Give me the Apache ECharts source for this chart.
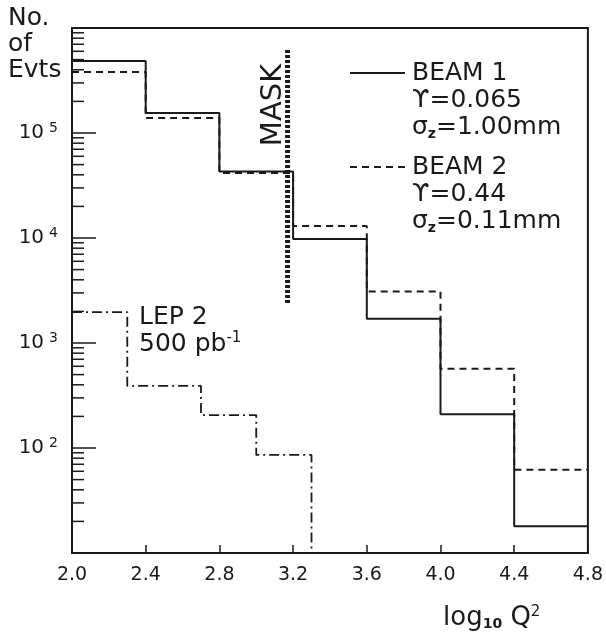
<!DOCTYPE html>
<html>
<head>
<meta charset="utf-8">
<script src="https://cdn.jsdelivr.net/npm/echarts@6/dist/echarts.min.js"></script>
<style>
html, body { margin: 0; padding: 0; background: #fff; }
#chart { width: 606px; height: 638px; }
</style>
</head>
<body>
<div id="chart"></div>
<script>
// histogram bins, x = log10 Q^2
var beamEdges = [2.0, 2.4, 2.8, 3.2, 3.6, 4.0, 4.4, 4.8];
var beam1Values = [485000, 155000, 43000, 9800, 1700, 210, 18];
var beam2Values = [380000, 139000, 41500, 13000, 3100, 570, 62];
var lepEdges = [2.0, 2.3, 2.7, 3.0, 3.3];
var lepValues = [1970, 390, 206, 86];
// mask marker
var maskX = [3.17, 3.17];
var maskY = [2400, 630000];
// axes
var xMin = 2.0, xMax = 4.8, xStep = 0.4;
var yMin = 10, yMax = 1000000;
var yLabelExponents = [2, 3, 4, 5];
var minorMultipliers = [2, 3, 4, 5, 6, 7, 8, 9];
var minorDecades = [10, 100, 1000, 10000, 100000];

var ink = '#1a1a1a';
var font = 'DejaVu Sans';

// turn bin edges + contents into step points
function stepPoints(edges, values, dropTo) {
    var pts = [];
    for (var i = 0; i < values.length; i++) {
        pts.push([edges[i], values[i]]);
    }
    pts.push([edges[edges.length - 1], values[values.length - 1]]);
    if (dropTo != null) pts.push([edges[edges.length - 1], dropTo]);
    return pts;
}

var minorTicks = [];
minorDecades.forEach(function (d) {
    minorMultipliers.forEach(function (m) { minorTicks.push([xMin, m * d]); });
});

var chart = echarts.init(document.getElementById('chart'));
chart.setOption({
    animation: false,
    backgroundColor: '#fff',
    grid: {
        left: 72, right: 16, top: 28, bottom: 85,
        show: true, borderColor: ink, borderWidth: 2
    },
    xAxis: {
        type: 'value',
        min: xMin, max: xMax, interval: xStep,
        axisLine: { lineStyle: { color: ink, width: 2 } },
        axisTick: { inside: true, length: 8, lineStyle: { color: ink, width: 1.5 } },
        splitLine: { show: false },
        axisLabel: {
            color: ink, fontFamily: font, fontSize: 19, margin: 13,
            formatter: function (v) { return v.toFixed(1); }
        }
    },
    yAxis: {
        type: 'log',
        logBase: 10,
        min: yMin, max: yMax,
        axisLine: { lineStyle: { color: ink, width: 2 } },
        axisTick: { inside: true, length: 24, lineStyle: { color: ink, width: 1.5 } },
        splitLine: { show: false },
        axisLabel: {
            margin: 14,
            formatter: function (v) {
                var e = Math.round(Math.log10(v));
                if (yLabelExponents.indexOf(e) < 0) return '';
                return '{b|10}{s|' + e + '}';
            },
            rich: {
                b: { fontFamily: font, fontSize: 20, color: ink },
                s: { fontFamily: font, fontSize: 14, color: ink, verticalAlign: 'top', padding: [0, 0, 10, 5] }
            }
        }
    },
    series: [
        {
            name: 'minor ticks',
            type: 'custom',
            data: minorTicks,
            silent: true,
            renderItem: function (params, api) {
                var p = api.coord([api.value(0), api.value(1)]);
                return {
                    type: 'line',
                    shape: { x1: p[0], y1: p[1], x2: p[0] + 12, y2: p[1] },
                    style: { stroke: ink, lineWidth: 1.5 }
                };
            }
        },
        {
            name: 'BEAM 1',
            type: 'line',
            step: 'end',
            symbol: 'none',
            data: stepPoints(beamEdges, beam1Values),
            lineStyle: { color: ink, width: 2 }
        },
        {
            name: 'BEAM 2',
            type: 'line',
            step: 'end',
            symbol: 'none',
            data: stepPoints(beamEdges, beam2Values),
            lineStyle: { color: ink, width: 2, type: [7, 5] }
        },
        {
            name: 'LEP 2',
            type: 'line',
            step: 'end',
            symbol: 'none',
            data: stepPoints(lepEdges, lepValues, yMin),
            lineStyle: { color: ink, width: 1.8, type: [10, 4, 2, 4] }
        },
        {
            name: 'MASK',
            type: 'line',
            symbol: 'none',
            data: [[maskX[0], maskY[0]], [maskX[1], maskY[1]]],
            lineStyle: { color: ink, width: 5, type: [3, 2] }
        }
    ],
    graphic: [
        { type: 'text', left: 8, top: 5,
          style: { text: 'No.\nof\nEvts', fontFamily: font, fontSize: 25, lineHeight: 26, fill: ink } },
        { type: 'text', x: 273, y: 105, rotation: Math.PI / 2,
          style: { text: 'MASK', fontFamily: font, fontSize: 29, fill: ink, align: 'center', verticalAlign: 'middle' } },
        // legend
        { type: 'line', shape: { x1: 350, y1: 73, x2: 405, y2: 73 }, style: { stroke: ink, lineWidth: 2 } },
        { type: 'text', x: 412, y: 60,
          style: { text: 'BEAM 1\nϒ=0.065\n{g|σ}{z|z}=1.00mm', fontFamily: font, fontSize: 25, lineHeight: 27, fill: ink,
                   rich: { g: { fontFamily: font, fontSize: 25, fill: ink }, z: { fontFamily: font, fontSize: 14, fontWeight: 'bold', verticalAlign: 'bottom', fill: ink } } } },
        { type: 'line', shape: { x1: 350, y1: 167, x2: 405, y2: 167 }, style: { stroke: ink, lineWidth: 2, lineDash: [7, 5] } },
        { type: 'text', x: 412, y: 154,
          style: { text: 'BEAM 2\nϒ=0.44\n{g|σ}{z|z}=0.11mm', fontFamily: font, fontSize: 25, lineHeight: 27, fill: ink,
                   rich: { g: { fontFamily: font, fontSize: 25, fill: ink }, z: { fontFamily: font, fontSize: 14, fontWeight: 'bold', verticalAlign: 'bottom', fill: ink } } } },
        { type: 'text', x: 139, y: 304,
          style: { text: 'LEP 2\n500 pb{s|-1}', fontFamily: font, fontSize: 25, lineHeight: 27, fill: ink,
                   rich: { s: { fontFamily: font, fontSize: 15, verticalAlign: 'top', padding: [0, 0, 6, 0], fill: ink } } } },
        { type: 'text', x: 443, y: 605,
          style: { text: 'log{s|10} Q{p|2}', fontFamily: font, fontSize: 26, fill: ink,
                   rich: { s: { fontFamily: font, fontSize: 14, fontWeight: 'bold', verticalAlign: 'bottom', fill: ink },
                           p: { fontFamily: font, fontSize: 15, verticalAlign: 'top', fill: ink } } } }
    ]
});
</script>
</body>
</html>
